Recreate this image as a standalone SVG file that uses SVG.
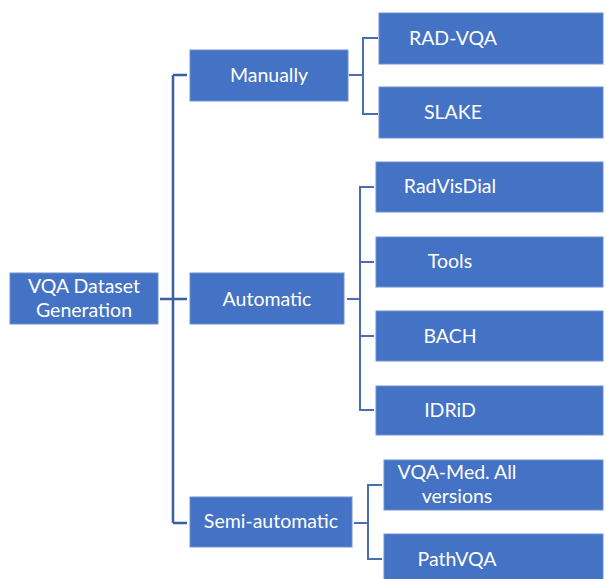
<svg xmlns="http://www.w3.org/2000/svg" width="606" height="579" viewBox="0 0 606 579">
<style>
.box{fill:#4472C4;stroke:#6E8FCF;stroke-width:1}
.t{font-family:Lato,"Open Sans","Liberation Sans",sans-serif;font-size:19.5px;fill:#FFFFFF;text-anchor:middle}
.trunk{fill:none;stroke:#3B5E9E;stroke-width:2.5}
.br{fill:none;stroke:#4A6DB0;stroke-width:2}
</style>
<rect width="606" height="579" fill="#FFFFFF"/>
<g id="connectors">
<path class="trunk" d="M160 299H187M173 75V523M173 75H187M173 523H187"/>
<path class="br" d="M349 75H363M378 38H363V114H378"/>
<path class="br" d="M347 299H360M374 187H360V410H374M360 262H374M360 336H374"/>
<path class="br" d="M354 523H368M382 485H368V559H382"/>
</g>
<g id="root"><rect class="box" x="10" y="273" width="148" height="51"/><text class="t" x="84" y="293">VQA Dataset</text><text class="t" x="84" y="317">Generation</text></g>
<g id="manually"><rect class="box" x="190" y="50" width="158" height="51"/><text class="t" x="269" y="82">Manually</text></g>
<g id="automatic"><rect class="box" x="190" y="273" width="154" height="51"/><text class="t" x="267" y="306">Automatic</text></g>
<g id="semi"><rect class="box" x="190" y="497" width="162" height="50"/><text class="t" x="271" y="528">Semi-automatic</text></g>
<g id="radvqa"><rect class="box" x="379" y="13" width="224" height="51"/><text class="t" x="453" y="45">RAD-VQA</text></g>
<g id="slake"><rect class="box" x="379" y="87" width="224" height="51"/><text class="t" x="453" y="119">SLAKE</text></g>
<g id="radvisdial"><rect class="box" x="376" y="162" width="227" height="50"/><text class="t" x="450" y="193">RadVisDial</text></g>
<g id="tools"><rect class="box" x="376" y="237" width="227" height="50"/><text class="t" x="450" y="268">Tools</text></g>
<g id="bach"><rect class="box" x="376" y="311" width="227" height="50"/><text class="t" x="450" y="343">BACH</text></g>
<g id="idrid"><rect class="box" x="376" y="386" width="227" height="49"/><text class="t" x="450" y="417">IDRiD</text></g>
<g id="vqamed"><rect class="box" x="384" y="460" width="219" height="50"/><text class="t" x="457" y="479">VQA-Med. All</text><text class="t" x="457" y="503">versions</text></g>
<g id="pathvqa"><rect class="box" x="384" y="534" width="219" height="51"/><text class="t" x="457" y="566">PathVQA</text></g>
</svg>
